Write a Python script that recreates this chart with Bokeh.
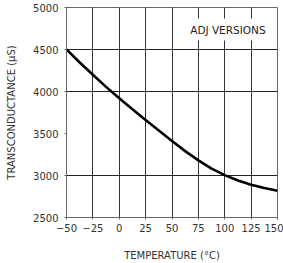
from bokeh.plotting import figure
from bokeh.embed import file_html
from bokeh.resources import INLINE
from bokeh.models import FixedTicker, Range1d, Label

temperature = [-50, -37.5, -25, -12.5, 0, 12.5, 25, 37.5, 50, 62.5, 75, 87.5, 100, 112.5, 125, 137.5, 150]
transconductance = [4500, 4345, 4200, 4055, 3920, 3790, 3660, 3535, 3410, 3290, 3180, 3082, 3005, 2940, 2890, 2850, 2818]
x_ticks = [-50, -25, 0, 25, 50, 75, 100, 125, 150]
y_ticks = [2500, 3000, 3500, 4000, 4500, 5000]
y_grid = [3000, 4000, 4500]
note = "ADJ VERSIONS"

p = figure(width=283, height=263, output_backend="svg", toolbar_location=None,
           x_range=Range1d(-50, 150), y_range=Range1d(2500, 5000),
           min_border_left=66, min_border_right=6, min_border_top=7, min_border_bottom=46)
p.outline_line_color = "#666666"
p.background_fill_color = "white"
p.border_fill_color = "white"

p.line(temperature, transconductance, line_color="black", line_width=2.6)

p.xaxis.ticker = FixedTicker(ticks=x_ticks)
p.yaxis.ticker = FixedTicker(ticks=y_ticks)
p.xgrid.ticker = FixedTicker(ticks=x_ticks)
p.ygrid.ticker = FixedTicker(ticks=y_grid)
p.xgrid.grid_line_color = "#333333"
p.ygrid.grid_line_color = "#222222"
p.xgrid.grid_line_alpha = 1
p.ygrid.grid_line_alpha = 1

for ax in (p.xaxis, p.yaxis):
    ax.axis_line_color = "#666666"
    ax.major_tick_line_color = "#666666"
    ax.major_tick_in = 0
    ax.major_tick_out = 2
    ax.minor_tick_line_color = None
    ax.major_label_text_font = "DejaVu Sans"
    ax.major_label_text_font_size = "10px"
    ax.major_label_text_color = "#333333"
    ax.axis_label_text_font = "DejaVu Sans"
    ax.axis_label_text_font_size = "10px"
    ax.axis_label_text_font_style = "normal"
    ax.axis_label_text_color = "#333333"

p.xaxis.major_label_standoff = 4
p.yaxis.major_label_standoff = 6
p.xaxis.axis_label = "TEMPERATURE (°C)"
p.yaxis.axis_label = "TRANSCONDUCTANCE (µS)"
p.xaxis.axis_label_standoff = 15
p.yaxis.axis_label_standoff = 13

p.add_layout(Label(x=103, y=4738, text=note, text_align="center", text_baseline="middle",
                   text_font="DejaVu Sans", text_font_size="10.5px", text_color="#222222",
                   background_fill_color="white", background_fill_alpha=1,
                   padding=5))

open("out.html", "w").write(file_html(p, INLINE))
